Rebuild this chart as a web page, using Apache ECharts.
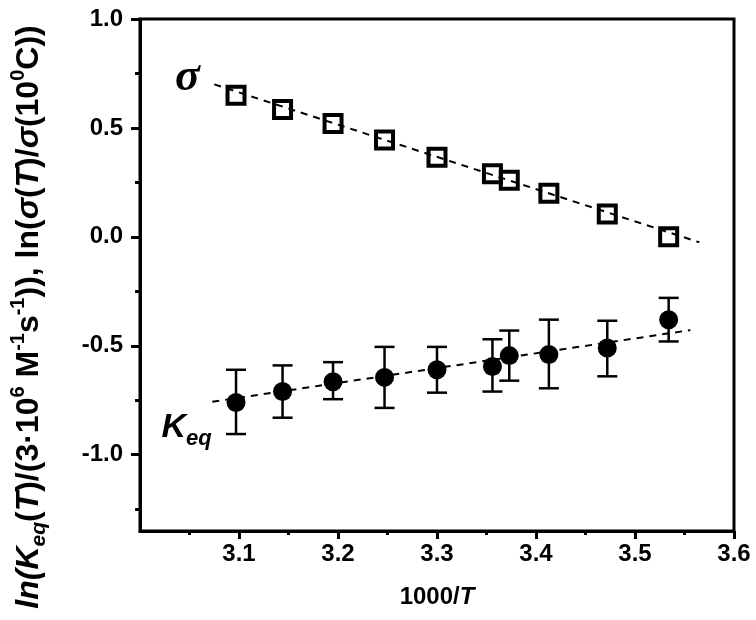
<!DOCTYPE html>
<html><head><meta charset="utf-8">
<script src="https://cdn.jsdelivr.net/npm/echarts@6/dist/echarts.min.js"></script>
<style>html,body{margin:0;padding:0;background:#fff}#c{width:756px;height:620px}</style>
</head><body><div id="c"></div>
<script>
// ---- data ----
const tempX = [3.097, 3.144, 3.195, 3.247, 3.300, 3.356, 3.373, 3.413, 3.472, 3.534];
const sigmaY = [0.65, 0.585, 0.52, 0.445, 0.365, 0.29, 0.26, 0.20, 0.105, 0.0];
const keqY = [-0.76, -0.71, -0.665, -0.645, -0.61, -0.595, -0.545, -0.54, -0.51, -0.38];
const keqLow = [-0.905, -0.83, -0.745, -0.785, -0.715, -0.71, -0.66, -0.695, -0.64, -0.48];
const keqHigh = [-0.61, -0.59, -0.575, -0.505, -0.505, -0.47, -0.43, -0.38, -0.385, -0.28];
const sigmaFitX = [3.075, 3.565];
const sigmaFitY = [0.70, -0.025];
const keqFitX = [3.073, 3.556];
const keqFitY = [-0.757, -0.428];
const xMajorTicks = [3.1, 3.2, 3.3, 3.4, 3.5, 3.6];
const xMinorTicks = [3.05, 3.15, 3.25, 3.35, 3.45, 3.55];
const yMajorTicks = [-1.0, -0.5, 0.0, 0.5, 1.0];
const yMinorTicks = [-1.25, -0.75, -0.25, 0.25, 0.75];
const sigmaLabelPos = [3.048, 0.73];
const keqLabelPos = [3.047, -0.875];

const zip = (a, b) => a.map((v, i) => [v, b[i]]);
const FONT = 'Liberation Sans, Arial, sans-serif';
const chart = echarts.init(document.getElementById('c'), null, {renderer: 'canvas'});

const richY = {
  b: {fontFamily: FONT, fontWeight: 'bold', fontSize: 32, lineHeight: 42, color: '#000'},
  bi: {fontFamily: FONT, fontWeight: 'bold', fontStyle: 'italic', fontSize: 32, lineHeight: 42, color: '#000'},
  sup: {fontFamily: FONT, fontWeight: 'bold', fontSize: 20, lineHeight: 42, verticalAlign: 'top', color: '#000'},
  sub: {fontFamily: FONT, fontWeight: 'bold', fontStyle: 'italic', fontSize: 21, lineHeight: 42, verticalAlign: 'bottom', color: '#000'}
};
const richX = {
  b: {fontFamily: FONT, fontWeight: 'bold', fontSize: 24, color: '#000'},
  bi: {fontFamily: FONT, fontWeight: 'bold', fontStyle: 'italic', fontSize: 24, color: '#000'}
};

const yName = '{bi|ln(K}{sub|eq}{b|(}{bi|T}{b|)/(3·10}{sup|6}{b| M}{sup|-1}{b|s}{sup|-1}{b|)), ln(}{bi|σ}{b|(}{bi|T}{b|)/}{bi|σ}{b|(10}{sup|0}{b|C))}';

const axisLabelStyle = {fontFamily: FONT, fontWeight: 'bold', fontSize: 24, color: '#000'};

const option = {
  animation: false,
  backgroundColor: '#fff',
  grid: {left: 140, right: 22, top: 19, bottom: 89, show: true, borderColor: '#000', borderWidth: 3, backgroundColor: 'transparent'},
  xAxis: [{
    type: 'value', min: 3.0, max: 3.6, position: 'bottom',
    axisLine: {show: true, onZero: false, lineStyle: {color: '#000', width: 3}},
    axisTick: {show: true, length: 8, lineStyle: {color: '#000', width: 3}, customValues: xMajorTicks},
    axisLabel: Object.assign({margin: 11, customValues: xMajorTicks, formatter: v => v.toFixed(1)}, axisLabelStyle),
    splitLine: {show: false},
    name: '{b|1000/}{bi|T}', nameLocation: 'middle', nameGap: 54,
    nameTextStyle: {rich: richX}
  }, {
    type: 'value', min: 3.0, max: 3.6, position: 'bottom', gridIndex: 0,
    axisLine: {show: false, onZero: false},
    axisTick: {show: true, length: 4, lineStyle: {color: '#000', width: 3}, customValues: xMinorTicks},
    axisLabel: {show: false},
    splitLine: {show: false}
  }],
  yAxis: [{
    type: 'value', min: -1.35, max: 1.0, position: 'left',
    axisLine: {show: true, onZero: false, lineStyle: {color: '#000', width: 3}},
    axisTick: {show: true, length: 9, lineStyle: {color: '#000', width: 3}, customValues: yMajorTicks},
    axisLabel: Object.assign({margin: 17, customValues: yMajorTicks, formatter: v => v.toFixed(1)}, axisLabelStyle),
    splitLine: {show: false},
    name: yName, nameLocation: 'middle', nameGap: 90, nameRotate: 90,
    nameTextStyle: {rich: richY, padding: [0, 84, 0, 0]}
  }, {
    type: 'value', min: -1.35, max: 1.0, position: 'left',
    axisLine: {show: false, onZero: false},
    axisTick: {show: true, length: 5, lineStyle: {color: '#000', width: 3}, customValues: yMinorTicks},
    axisLabel: {show: false},
    splitLine: {show: false}
  }],
  series: [
    {
      type: 'line', data: zip(sigmaFitX, sigmaFitY), symbol: 'none',
      lineStyle: {color: '#000', width: 2, type: [7, 6]}, z: 2, silent: true
    },
    {
      type: 'line', data: zip(keqFitX, keqFitY), symbol: 'none',
      lineStyle: {color: '#000', width: 2, type: [7, 6]}, z: 2, silent: true
    },
    {
      type: 'custom', z: 3,
      data: tempX.map((x, i) => [x, keqLow[i], keqHigh[i]]),
      encode: {x: 0, y: [1, 2]},
      renderItem: function (params, api) {
        const x = api.value(0);
        const lo = api.coord([x, api.value(1)]);
        const hi = api.coord([x, api.value(2)]);
        const hw = 10;
        const style = {stroke: '#000', lineWidth: 2.5};
        return {type: 'group', children: [
          {type: 'line', shape: {x1: lo[0], y1: lo[1], x2: hi[0], y2: hi[1]}, style: style},
          {type: 'line', shape: {x1: lo[0] - hw, y1: lo[1], x2: lo[0] + hw, y2: lo[1]}, style: style},
          {type: 'line', shape: {x1: hi[0] - hw, y1: hi[1], x2: hi[0] + hw, y2: hi[1]}, style: style}
        ]};
      }
    },
    {
      type: 'scatter', data: zip(tempX, keqY), symbol: 'circle', symbolSize: 19,
      itemStyle: {color: '#000', opacity: 1}, z: 4
    },
    {
      type: 'scatter', data: zip(tempX, sigmaY), symbol: 'rect', symbolSize: 17,
      itemStyle: {color: 'rgba(0,0,0,0)', borderColor: '#000', borderWidth: 4, opacity: 1}, z: 4
    },
    {
      type: 'scatter', data: [sigmaLabelPos], symbolSize: 0, silent: true, z: 5,
      itemStyle: {opacity: 1},
      label: {show: true, position: 'inside', formatter: 'σ', textBorderWidth: 0, opacity: 1,
        fontFamily: 'Liberation Serif, Times New Roman, serif', fontWeight: 'bold', fontStyle: 'italic', fontSize: 46, color: '#000'}
    },
    {
      type: 'scatter', data: [keqLabelPos], symbolSize: 0, silent: true, z: 5,
      itemStyle: {opacity: 1},
      label: {show: true, position: 'inside', formatter: '{k|K}{e|eq}', textBorderWidth: 0, opacity: 1,
        rich: {
          k: {fontFamily: FONT, fontWeight: 'bold', fontStyle: 'italic', fontSize: 34, lineHeight: 44, color: '#000'},
          e: {fontFamily: FONT, fontWeight: 'bold', fontStyle: 'italic', fontSize: 22, lineHeight: 44, verticalAlign: 'bottom', color: '#000'}
        }}
    }
  ]
};
chart.setOption(option);
</script>
</body></html>
